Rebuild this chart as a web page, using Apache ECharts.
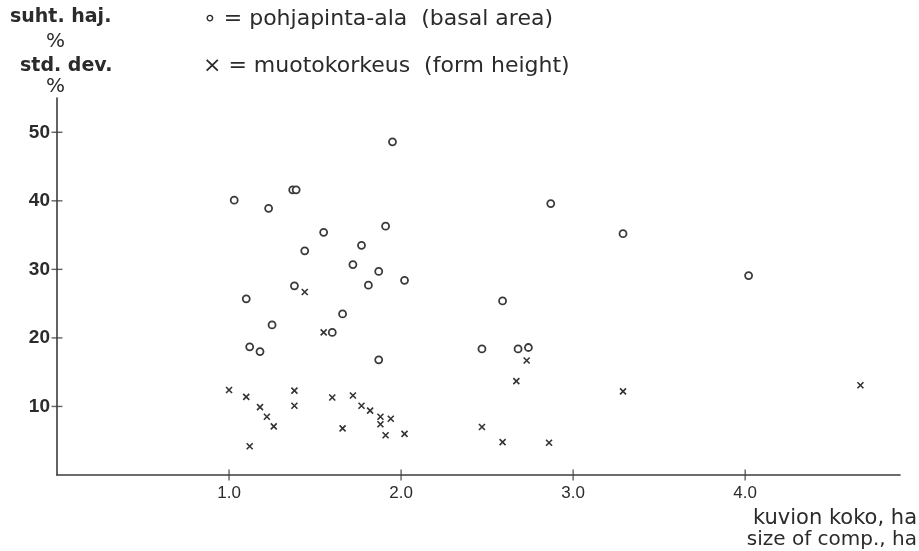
<!DOCTYPE html>
<html>
<head>
<meta charset="utf-8">
<script src="https://cdn.jsdelivr.net/npm/echarts@6/dist/echarts.min.js"></script>
<style>
html,body{margin:0;padding:0;background:#fff;}
#chart{width:919px;height:551px;}
</style>
</head>
<body>
<div id="chart"></div>
<script>
// Basal area (circles): x = size of compartment (ha), y = std. dev. %
const basalX = [1.03, 1.23, 1.37, 1.39, 1.38, 1.95, 1.55, 1.91, 1.77, 1.44, 1.72, 1.87, 2.02, 1.81,
                1.10, 1.66, 1.25, 1.60, 1.12, 1.18, 1.87, 2.87, 3.29, 2.59, 2.47, 2.68, 2.74, 4.02];
const basalY = [40.1, 38.9, 41.6, 41.6, 27.6, 48.6, 35.4, 36.3, 33.5, 32.7, 30.7, 29.7, 28.4, 27.7,
                25.7, 23.5, 21.9, 20.8, 18.7, 18.0, 16.8, 39.6, 35.2, 25.4, 18.4, 18.4, 18.6, 29.1];
// Form height (crosses)
const formX = [1.00, 1.10, 1.38, 1.18, 1.38, 1.22, 1.26, 1.12, 1.60, 1.72, 1.77, 1.82, 1.88, 1.94,
               1.88, 1.66, 1.91, 2.02, 1.44, 1.55, 2.73, 2.67, 3.29, 2.47, 2.59, 2.86, 4.67];
const formY = [12.4, 11.4, 12.3, 9.9, 10.1, 8.5, 7.1, 4.2, 11.3, 11.6, 10.1, 9.4, 8.5, 8.2,
               7.4, 6.8, 5.8, 6.0, 26.7, 20.8, 16.7, 13.7, 12.2, 7.0, 4.8, 4.7, 13.1];
const xTickValues = [1, 2, 3, 4];
const yTickValues = [10, 20, 30, 40, 50];

const ink = '#2b2b2b';
const axisInk = '#3c3c3c';
const font = '"Liberation Sans", Arial, sans-serif';
const wide = '"DejaVu Sans", sans-serif';

const chart = echarts.init(document.getElementById('chart'), null, {renderer: 'canvas'});

const option = {
  animation: false,
  backgroundColor: '#fff',
  grid: {left: 57, right: 19, top: 98, bottom: 76},
  xAxis: {
    type: 'value', min: 0, max: 4.9, interval: 1,
    axisLine: {show: true, onZero: false, lineStyle: {color: axisInk, width: 1.6}},
    axisTick: {show: false},
    axisLabel: {customValues: xTickValues, formatter: v => v.toFixed(1),
                fontSize: 17, color: ink, fontFamily: font, margin: 10},
    splitLine: {show: false}
  },
  yAxis: {
    type: 'value', min: 0, max: 55, interval: 10,
    axisLine: {show: true, onZero: false, lineStyle: {color: axisInk, width: 1.6}},
    axisTick: {show: false},
    axisLabel: {customValues: yTickValues, formatter: v => String(v),
                fontSize: 19, fontWeight: 'bold', color: ink, fontFamily: font, margin: 7},
    splitLine: {show: false}
  },
  series: [
    {
      // tick marks crossing the x axis, placed through the axis scale
      type: 'scatter', silent: true, clip: false, z: 1,
      data: xTickValues.map(v => [v, 0]),
      symbol: 'rect', symbolSize: [1.4, 11],
      itemStyle: {color: axisInk}
    },
    {
      // tick marks crossing the y axis
      type: 'scatter', silent: true, clip: false, z: 1,
      data: yTickValues.map(v => [0, v]),
      symbol: 'rect', symbolSize: [11, 1.4],
      itemStyle: {color: axisInk}
    },
    {
      name: 'pohjapinta-ala (basal area)', type: 'scatter',
      data: basalX.map((x, i) => [x, basalY[i]]),
      symbol: 'circle', symbolSize: 7,
      itemStyle: {color: '#fff', borderColor: '#3a3a3a', borderWidth: 1.8, opacity: 1}
    },
    {
      name: 'muotokorkeus (form height)', type: 'scatter',
      data: formX.map((x, i) => [x, formY[i]]),
      symbol: 'path://M0,0L10,10M10,0L0,10', symbolSize: 6,
      itemStyle: {color: 'none', borderColor: '#333', borderWidth: 1.6, opacity: 1}
    }
  ],
  graphic: [
    {type: 'text', left: 10, top: 8, style: {text: 'suht. haj.', font: 'bold 19px ' + wide, fill: ink}},
    {type: 'text', left: 46, top: 32, style: {text: '%', font: '20px ' + wide, fill: ink}},
    {type: 'text', left: 20, top: 57, style: {text: 'std. dev.', font: 'bold 19px ' + wide, fill: ink}},
    {type: 'text', left: 46, top: 77, style: {text: '%', font: '20px ' + wide, fill: ink}},
    {type: 'text', left: 203, top: 8, style: {text: '\u2218 = pohjapinta-ala  (basal area)', font: '22px ' + wide, fill: ink}},
    {type: 'text', left: 203, top: 55, style: {text: '\u00d7 = muotokorkeus  (form height)', font: '22px ' + wide, fill: ink}},
    {type: 'text', right: 2, top: 508, style: {text: 'kuvion koko, ha', font: '21px ' + wide, fill: ink}},
    {type: 'text', right: 2, top: 530, style: {text: 'size of comp., ha', font: '20px ' + wide, fill: ink}}
  ]
};
chart.setOption(option);
</script>
</body>
</html>
